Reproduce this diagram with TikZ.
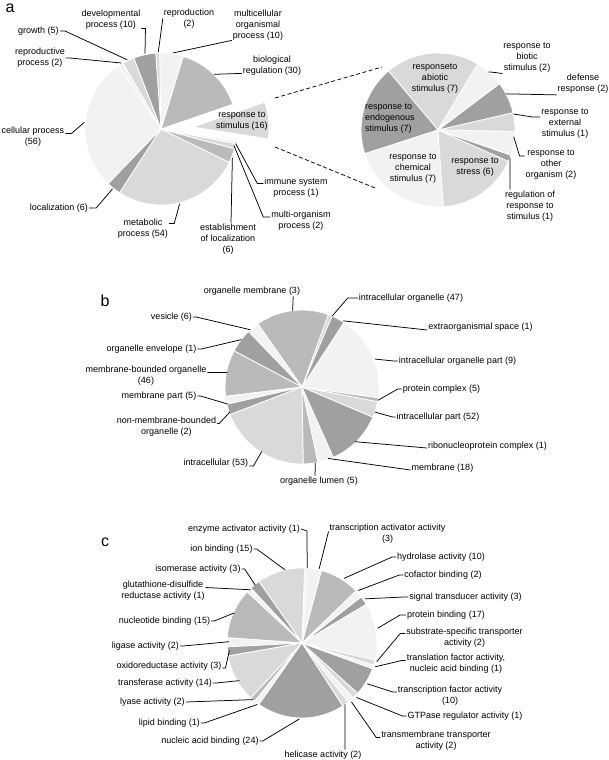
\documentclass[tikz,border=0pt]{standalone}
\usepackage{fontspec}
\setmainfont{Liberation Sans}
\usetikzlibrary{calc}
\definecolor{tintA}{HTML}{F2F2F2}
\definecolor{tintB}{HTML}{D9D9D9}
\definecolor{tintC}{HTML}{BABABA}
\definecolor{tintD}{HTML}{A0A0A0}

\begin{document}
\begin{tikzpicture}[x=1pt,y=1pt,
    lbl/.style={font=\fontsize{9}{11}\selectfont,align=center,inner sep=1pt},
    lead/.style={line width=0.75pt},
    panel/.style={font=\fontsize{16}{16}\selectfont,inner sep=0pt},
    wedge/.style={draw=white,line width=0.8pt}]
                    \useasboundingbox (0,0) rectangle (609,-760);
                    % panel a, biological process
                    \coordinate (pieA) at (161,-129);
                    \coordinate (pieS) at (193,-127);
                    \foreach \s/\e/\c in {124/226/tintA,226/237/tintD,237/334/tintB,334/345/tintC,345/349/tintB,349/351/tintA,19/73/tintC,73/91/tintA,91/94/tintB,94/111/tintD,111/120/tintB,120/124/tintA}
                        \fill[\c,wedge] (pieA)--++(\s:76) arc[start angle=\s,end angle=\e,radius=76]--cycle;
                    \fill[tintB,wedge] (pieS)--++(351:76) arc[start angle=351,end angle=379,radius=76]--cycle;
                    \coordinate (pieR) at (438,-130);
                    \foreach \s/\e/\c in {59/130/tintB,130/198/tintD,198/274/tintA,274/336/tintB,336/341/tintD,341/359/tintA,359/373/tintB,373/397/tintD,397/419/tintA}
                        \fill[\c,wedge] (pieR)--++(\s:77) arc[start angle=\s,end angle=\e,radius=77]--cycle;
                    \coordinate (cutA) at (275,-98);
                    \coordinate (cutB) at (275,-147);
                    \coordinate (zoomA) at (382,-67);
                    \coordinate (zoomB) at (375,-188);
                    \draw[lead,dash pattern=on 4pt off 2.5pt] (cutA)--(zoomA);
                    \draw[lead,dash pattern=on 4pt off 2.5pt] (cutB)--(zoomB);

                    \node[panel] (tagA) at (10,-8) {a};
                    \node[lbl] (growth) at (38.5,-31) {growth (5)};
                    \node[lbl] (reprod) at (40,-58) {reproductive\\process (2)};
                    \node[lbl] (devel) at (111,-19.5) {developmental\\process (10)};
                    \node[lbl] (repro) at (189,-18.5) {reproduction\\(2)};
                    \node[lbl] (multi) at (258,-25) {multicellular\\organismal\\process (10)};
                    \node[lbl] (bioreg) at (272,-65.5) {biological\\regulation (30)};
                    \node[lbl] (cellp) at (33,-136.5) {cellular process\\(56)};
                    \node[lbl] (local) at (59,-208) {localization (6)};
                    \node[lbl] (metab) at (143,-228.5) {metabolic\\process (54)};
                    \node[lbl] (estab) at (228,-239) {establishment\\of localization\\(6)};
                    \node[lbl] (immune) at (296,-187.5) {immune system\\process (1)};
                    \node[lbl] (multorg) at (301,-221) {multi-organism\\process (2)};
                    \node[lbl] (resp) at (242,-121.5) {response to\\stimulus (16)};
                    \draw[lead] (growth.east)--++(5,0)--($(pieA)+(116:77)$);
                    \draw[lead] (reprod.east)--++(4,0)--($(pieA)+(121:77)$);
                    \draw[lead] ([yshift=2pt]devel.south east)--++(4,0)--($(pieA)+(102:77)$);
                    \draw[lead] (repro.west)--($(pieA)+(92:77)$);
                    \draw[lead] ([yshift=1pt]multi.south west)--($(pieA)+(81:77)$);
                    \draw[lead] ([yshift=3pt]bioreg.south west)--($(pieA)+(46:76)$);
                    \draw[lead] ([yshift=3pt]cellp.east)--++(6,0)--($(pieA)+(175:77)$);
                    \draw[lead] (local.east)--++(7,0)--($(pieA)+(231:77)$);
                    \draw[lead] ([yshift=5pt]metab.east)--++(5,0)--($(pieA)+(284:77)$);
                    \draw[lead] ([xshift=3pt]estab.north)--($(pieA)+(338:77)$);
                    \draw[lead] ([yshift=4pt]immune.west)--++(-6,0)--($(pieA)+(349:76)$);
                    \draw[lead] ([yshift=4pt]multorg.west)--++(-7,0)--($(pieA)+(347:75)$);

                    \node[lbl] (biotic) at (527,-57.5) {response to\\biotic\\stimulus (2)};
                    \node[lbl] (defense) at (583,-84) {defense\\response (2)};
                    \node[lbl] (extern) at (565,-124) {response to\\external\\stimulus (1)};
                    \node[lbl] (other) at (551,-165) {response to\\other\\organism (2)};
                    \node[lbl] (regul) at (530,-206) {regulation of\\response to\\stimulus (1)};
                    \node[lbl] (abiot) at (435,-79) {responseto\\abiotic\\stimulus (7)};
                    \node[lbl,align=left,anchor=west] (endog) at (364,-119) {response to\\endogenous\\stimulus (7)};
                    \node[lbl] (chem) at (413,-169) {response to\\chemical\\stimulus (7)};
                    \node[lbl] (stress) at (475,-167.5) {response to\\stress (6)};
                    \draw[lead] (biotic.south west)--++(-7,1)--($(pieR)+(49:77)$);
                    \draw[lead] (defense.south west)--($(pieR)+(28:77)$);
                    \draw[lead] ([yshift=-9pt]extern.north west)--++(-8,0)--($(pieR)+(12:77)$);
                    \draw[lead] ([yshift=-7pt]other.north west)--++(-5,0)--($(pieR)+(355:76)$);
                    \draw[lead] ([xshift=-20pt]regul.north)--($(pieR)+(339:77)$);

                    % panel b, cellular component
                    \coordinate (pieB) at (302,-387);
                    \foreach \s/\e/\c in {67/70/tintB,70/125/tintC,125/134/tintA,134/152/tintD,152/187/tintC,187/193/tintA,193/201/tintD,201/271/tintB,271/282/tintC,282/294/tintA,294/337/tintD,337/349/tintB,349/352/tintC,352/417/tintA,417/427/tintD}
                        \fill[\c,wedge] (pieB)--++(\s:77) arc[start angle=\s,end angle=\e,radius=77]--cycle;
                    \node[panel] (tagB) at (105,-301) {b};
                    \node[lbl] (ormem) at (252,-291) {organelle membrane (3)};
                    \node[lbl] (icorg) at (411,-298) {intracellular organelle (47)};
                    \node[lbl] (vesic) at (171.5,-317) {vesicle (6)};
                    \node[lbl] (extra) at (480.5,-327) {extraorganismal space (1)};
                    \node[lbl] (orenv) at (151.5,-349) {organelle envelope (1)};
                    \node[lbl] (icpart) at (457.5,-361) {intracellular organelle part (9)};
                    \node[lbl] (mbound) at (146,-375.5) {membrane-bounded organelle\\(46)};
                    \node[lbl] (procx) at (441.5,-389) {protein complex (5)};
                    \node[lbl] (mpart) at (159,-396) {membrane part (5)};
                    \node[lbl] (icp) at (438,-417) {intracellular part (52)};
                    \node[lbl] (nmbound) at (166.5,-426.5) {non-membrane-bounded\\organelle (2)};
                    \node[lbl] (ribo) at (487.5,-446) {ribonucleoprotein complex (1)};
                    \node[lbl] (intra) at (216,-463) {intracellular (53)};
                    \node[lbl] (membr) at (442.5,-468) {membrane (18)};
                    \node[lbl] (lumen) at (319,-481) {organelle lumen (5)};
                    \draw[lead] ([xshift=-8pt]ormem.south east)--($(pieB)+(97:77)$);
                    \draw[lead] (icorg.west)--++(-10,0)--($(pieB)+(67:77)$);
                    \draw[lead] (vesic.east)--++(3,0)--($(pieB)+(132:77)$);
                    \draw[lead] ([yshift=-3pt]extra.west)--($(pieB)+(58:78)$);
                    \draw[lead] (orenv.east)--++(4,0)--($(pieB)+(142:77)$);
                    \draw[lead] (icpart.west)--++(-4,0)--($(pieB)+(21:78)$);
                    \draw[lead] ([yshift=3pt]mbound.east)--($(pieB)+(169:76)$);
                    \draw[lead] (procx.west)--++(-4,0)--($(pieB)+(350:77)$);
                    \draw[lead] (mpart.east)--++(3,0)--($(pieB)+(193:76)$);
                    \draw[lead] (icp.west)--++(-3,0)--($(pieB)+(341:77)$);
                    \draw[lead] ([yshift=3pt]nmbound.east)--++(2,0)--($(pieB)+(199:76)$);
                    \draw[lead] ([yshift=-2pt]ribo.west)--($(pieB)+(314:76)$);
                    \draw[lead] ([yshift=-3pt]intra.east)--++(4,0)--($(pieB)+(238:76)$);
                    \draw[lead] ([yshift=-2pt]membr.west)--($(pieB)+(290:76)$);
                    \draw[lead] ([xshift=-4pt]lumen.north)--($(pieB)+(280:77)$);

                    % panel c, molecular function
                    \coordinate (pieC) at (302,-643);
                    \foreach \s/\e/\c in {31/38/tintD,38/44/tintA,44/75/tintC,75/86/tintA,86/88/tintA,88/125/tintB,125/133/tintD,133/137/tintA,137/176/tintC,176/183/tintA,183/190/tintD,190/227/tintB,227/231/tintC,231/235/tintA,235/303/tintD,303/308/tintB,308/313/tintA,313/318/tintB,318/340/tintD,340/343/tintA,343/347/tintB,347/391/tintA}
                        \fill[\c,wedge] (pieC)--++(\s:75) arc[start angle=\s,end angle=\e,radius=75]--cycle;
                    \node[panel] (tagC) at (105,-542) {c};
                    \node[lbl] (enzact) at (244,-529) {enzyme activator activity (1)};
                    \node[lbl] (tcact) at (387.5,-533.5) {transcription activator activity\\(3)};
                    \node[lbl] (ionb) at (221.5,-549) {ion binding (15)};
                    \node[lbl] (hydro) at (441,-557) {hydrolase activity (10)};
                    \node[lbl] (isom) at (198,-569) {isomerase activity (3)};
                    \node[lbl] (cofac) at (443,-575) {cofactor binding (2)};
                    \node[lbl] (gluta) at (163,-590.5) {glutathione-disulfide\\reductase activity (1)};
                    \node[lbl] (signal) at (465.5,-597) {signal transducer activity (3)};
                    \node[lbl] (protb) at (446,-615) {protein binding (17)};
                    \node[lbl] (nucleo) at (164.5,-621) {nucleotide binding (15)};
                    \node[lbl] (subst) at (464.5,-637.5) {substrate-specific transporter\\activity (2)};
                    \node[lbl] (ligase) at (145.5,-646) {ligase activity (2)};
                    \node[lbl] (transl) at (456,-663.5) {translation factor activity,\\nucleic acid binding (1)};
                    \node[lbl] (oxido) at (169,-666) {oxidoreductase activity (3)};
                    \node[lbl] (transf) at (165,-683) {transferase activity (14)};
                    \node[lbl] (tcfac) at (450,-696) {transcription factor activity\\(10)};
                    \node[lbl] (lyase) at (152.5,-702) {lyase activity (2)};
                    \node[lbl] (gtpase) at (465,-716) {GTPase regulator activity (1)};
                    \node[lbl] (lipid) at (169.5,-723) {lipid binding (1)};
                    \node[lbl] (tmemb) at (436,-740.5) {transmembrane transporter\\activity (2)};
                    \node[lbl] (nucac) at (210,-741) {nucleic acid binding (24)};
                    \node[lbl] (helic) at (323,-755) {helicase activity (2)};
                    \draw[lead] (enzact.east)--++(6,-2)--($(pieC)+(86:75)$);
                    \draw[lead] ([yshift=2pt]tcact.west)--($(pieC)+(77:76)$);
                    \draw[lead] (ionb.east)--++(3,0)--($(pieC)+(103:75)$);
                    \draw[lead] (hydro.west)--++(-4,0)--($(pieC)+(57:77)$);
                    \draw[lead] (isom.east)--++(3,0)--($(pieC)+(129:74)$);
                    \draw[lead] (cofac.west)--++(-4,0)--($(pieC)+(43:77)$);
                    \draw[lead] ([yshift=3pt]gluta.east)--($(pieC)+(134:74)$);
                    \draw[lead] (signal.west)--++(-5,0)--($(pieC)+(35:77)$);
                    \draw[lead] (protb.west)--++(-6,0)--($(pieC)+(11:77)$);
                    \draw[lead] (nucleo.east)--++(3,0)--($(pieC)+(156:74)$);
                    \draw[lead] ([yshift=4pt]subst.west)--++(-5,0)--($(pieC)+(346:77)$);
                    \draw[lead] (ligase.east)--++(3,0)--($(pieC)+(179:73)$);
                    \draw[lead] ([yshift=3pt]transl.west)--++(-4,0)--($(pieC)+(342:77)$);
                    \draw[lead] ([yshift=-2pt]oxido.east)--++(3,0)--($(pieC)+(186:73)$);
                    \draw[lead] (transf.east)--++(3,0)--($(pieC)+(211:73)$);
                    \draw[lead] ([yshift=4pt]tcfac.west)--++(-4,0)--($(pieC)+(328:77)$);
                    \draw[lead] (lyase.east)--($(pieC)+(229:75)$);
                    \draw[lead] (gtpase.west)--++(-4,0)--($(pieC)+(315:77)$);
                    \draw[lead] (lipid.east)--++(3,0)--($(pieC)+(234:76)$);
                    \draw[lead] ([yshift=3pt]tmemb.west)--++(-4,0)--($(pieC)+(310:77)$);
                    \draw[lead] (nucac.east)--++(3,0)--($(pieC)+(268:76)$);
                    \draw[lead] ([xshift=22pt]helic.north)--($(pieC)+(305:75)$);
                \end{tikzpicture}
\end{document}
